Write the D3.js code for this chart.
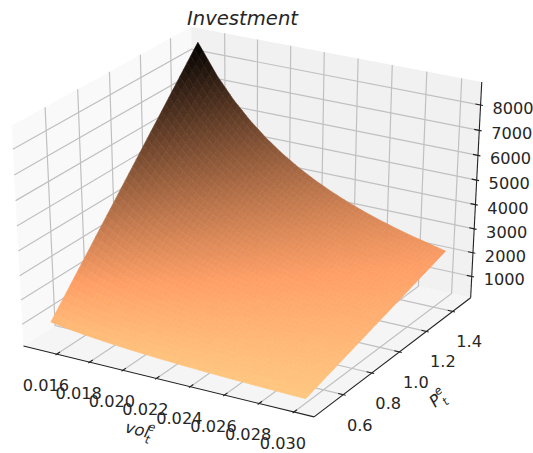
<!DOCTYPE html>
<html><head><meta charset="utf-8">
<script src="https://cdn.jsdelivr.net/npm/d3@7"></script>
<style>html,body{margin:0;padding:0;background:#fff}svg{display:block}text{font-family:"DejaVu Sans";fill:#262626}</style>
</head><body><svg id="c" width="533" height="453"></svg>
<script>
const vols=[0.0148,0.016,0.017,0.018,0.019,0.020,0.021,0.022,0.023,0.024,0.025,0.026,0.027,0.028,0.029,0.0299];
const prices=[0.49,0.59,0.69,0.79,0.89,0.99,1.09,1.19,1.29,1.39,1.49];
const investment=[
[847,1618,2388,3158,3929,4698,5469,6239,7009,7780,8550],
[725,1384,2043,2703,3362,4020,4679,5339,5998,6657,7316],
[642,1226,1810,2394,2978,3561,4145,4729,5312,5896,6480],
[573,1094,1614,2135,2656,3176,3697,4218,4738,5259,5780],
[514,982,1449,1916,2384,2851,3318,3786,4253,4721,5188],
[464,886,1308,1730,2151,2573,2995,3416,3838,4260,4682],
[421,804,1186,1569,1952,2334,2716,3099,3482,3864,4247],
[383,732,1081,1429,1778,2126,2475,2823,3172,3520,3869],
[351,670,989,1308,1627,1945,2264,2583,2902,3221,3540],
[322,615,908,1201,1494,1786,2079,2372,2665,2958,3251],
[297,567,837,1107,1377,1646,1916,2186,2456,2726,2996],
[275,524,774,1023,1273,1522,1772,2021,2271,2520,2770],
[255,486,718,949,1180,1412,1643,1875,2106,2338,2569],
[237,452,667,883,1098,1313,1528,1743,1959,2174,2389],
[221,421,622,823,1023,1224,1424,1625,1826,2026,2227],
[206,394,581,769,956,1144,1331,1519,1706,1893,2081]];
const xTicks=[0.016,0.018,0.020,0.022,0.024,0.026,0.028,0.030];
const yTicks=[0.6,0.8,1.0,1.2,1.4];
const zTicks=[1000,2000,3000,4000,5000,6000,7000,8000];
const xDomain=[0.01394,0.03114], yDomain=[0.40,1.54], zDomain=[93,8898];

const bx=d3.scaleLinear().domain(xDomain).range([0,1]);
const by=d3.scaleLinear().domain(yDomain).range([0,1]);
const bz=d3.scaleLinear().domain(zDomain).range([0,1]);
const sx=d3.scaleLinear().domain([0,1]).range([250.5,250.5+3355]);
const sy=d3.scaleLinear().domain([0,1]).range([215.2,215.2-2515]);
const e=Math.PI/6,a=-Math.PI/3,dist=10;
const n=[Math.cos(e)*Math.cos(a),Math.cos(e)*Math.sin(a),Math.sin(e)];
const u=[-Math.sin(a),Math.cos(a),0];
const v=[n[1]*u[2]-n[2]*u[1],n[2]*u[0]-n[0]*u[2],n[0]*u[1]-n[1]*u[0]];
const dot=(p,q)=>p[0]*q[0]+p[1]*q[1]+p[2]*q[2];
function proj(p){const q=[p[0]-.5,p[1]-.5,p[2]-.5],D=dist-dot(q,n);return {x:sx(dot(q,u)/D),y:sy(dot(q,v)/D),d:D};}
const P=p=>{const r=proj(p);return [r.x,r.y];};
const line=d3.line();
const svg=d3.select("#c");

// panes
const panes=[
 {c:[[0,0,0],[0,1,0],[0,1,1],[0,0,1]],f:"rgb(249,249,249)"},
 {c:[[0,1,0],[1,1,0],[1,1,1],[0,1,1]],f:"rgb(241,241,241)"},
 {c:[[0,0,0],[1,0,0],[1,1,0],[0,1,0]],f:"rgb(245,245,245)"}];
svg.append("g").selectAll("path").data(panes).join("path")
 .attr("d",d=>line(d.c.map(P))+"Z").attr("fill",d=>d.f).attr("stroke","none");

// grid
const grid=[];
xTicks.forEach(t=>{const x=bx(t);grid.push([[x,0,0],[x,1,0],[x,1,1]]);});
yTicks.forEach(t=>{const y=by(t);grid.push([[1,y,0],[0,y,0],[0,y,1]]);});
zTicks.forEach(t=>{const z=bz(t);grid.push([[1,1,z],[0,1,z],[0,0,z]]);});
svg.append("g").selectAll("path").data(grid).join("path")
 .attr("d",d=>line(d.map(P))).attr("fill","none").attr("stroke","#c0c0c0").attr("stroke-width",1.2);

// surface (each data cell is Gouraud-shaded by sub-facets)
const allZ=investment.flat(),zMin=d3.min(allZ),zMax=d3.max(allZ),span=zMax-zMin;
const color=d3.scaleLinear().domain([zMax,zMax-0.8*span,zMin])
 .range(["rgb(0,0,0)","rgb(255,159,102)","rgb(255,199,127)"]);
const sub=4,facets=[];
function at(i,j,s,t){
 const z=investment[i][j]*(1-s)*(1-t)+investment[i+1][j]*s*(1-t)+investment[i][j+1]*(1-s)*t+investment[i+1][j+1]*s*t;
 const vx=vols[i]+(vols[i+1]-vols[i])*s,py=prices[j]+(prices[j+1]-prices[j])*t;
 return {p:[bx(vx),by(py),bz(z)],z};
}
for(let i=0;i<vols.length-1;i++)for(let j=0;j<prices.length-1;j++)
 for(let a1=0;a1<sub;a1++)for(let b1=0;b1<sub;b1++){
  const c=[at(i,j,a1/sub,b1/sub),at(i,j,(a1+1)/sub,b1/sub),at(i,j,(a1+1)/sub,(b1+1)/sub),at(i,j,a1/sub,(b1+1)/sub)];
  facets.push({pts:c.map(k=>P(k.p)),z:d3.mean(c,k=>k.z),d:d3.mean(c,k=>proj(k.p).d)});
 }
facets.sort((p,q)=>q.d-p.d);
svg.append("g").selectAll("path").data(facets).join("path")
 .attr("d",d=>line(d.pts)+"Z").attr("fill",d=>color(d.z)).attr("stroke",d=>color(d.z)).attr("stroke-width",0.6);

// axis lines and ticks
const axes=[[[0,0,0],[1,0,0]],[[1,0,0],[1,1,0]],[[1,1,0],[1,1,1]]];
const ticks=[];
xTicks.forEach(t=>{const x=bx(t);ticks.push([[x,-0.008,0],[x,0.017,0]]);});
yTicks.forEach(t=>{const y=by(t);ticks.push([[1.008,y,0],[0.983,y,0]]);});
zTicks.forEach(t=>{const z=bz(t);ticks.push([[1.008,1,z],[0.983,1,z]]);});
svg.append("g").selectAll("path").data(axes.concat(ticks)).join("path")
 .attr("d",d=>line(d.map(P))).attr("fill","none").attr("stroke","#222").attr("stroke-width",1.1);

// tick labels
const fs=16.2;
const lab=(x,y,s)=>svg.append("text").attr("x",x).attr("y",y).attr("text-anchor","middle").attr("dominant-baseline","central").attr("font-size",fs).text(s);
xTicks.forEach(t=>{const q=P([bx(t),0,0]);lab(q[0]-11,q[1]+31.5,t.toFixed(3));});
yTicks.forEach(t=>{const q=P([1,by(t),0]);lab(q[0]+16.5,q[1]+30.5,t.toFixed(1));});
zTicks.forEach(t=>{const q=P([1,1,bz(t)]);lab(q[0]+32.5,q[1]+3.5,String(t));});

// title and axis labels
svg.append("text").attr("x",242.5).attr("y",25).attr("text-anchor","middle").attr("font-size",19.6).attr("font-style","italic").text("Investment");
function mathLabel(cx,cy,rot,base){
 const g=svg.append("g").attr("transform",`translate(${cx},${cy}) rotate(${rot})`);
 g.append("text").attr("x",-16).attr("y",5).attr("font-size",fs).attr("font-style","italic").text(base);
 const w=base==="vol"?22:10;
 g.append("text").attr("x",-16+w).attr("y",-2.5).attr("font-size",11.5).attr("font-style","italic").text("e");
 g.append("text").attr("x",-16+w).attr("y",10.5).attr("font-size",11.5).attr("font-style","italic").text("t");
}
mathLabel(141,431,14,"vol");
mathLabel(444,394,-40,"P");
</script></body></html>
